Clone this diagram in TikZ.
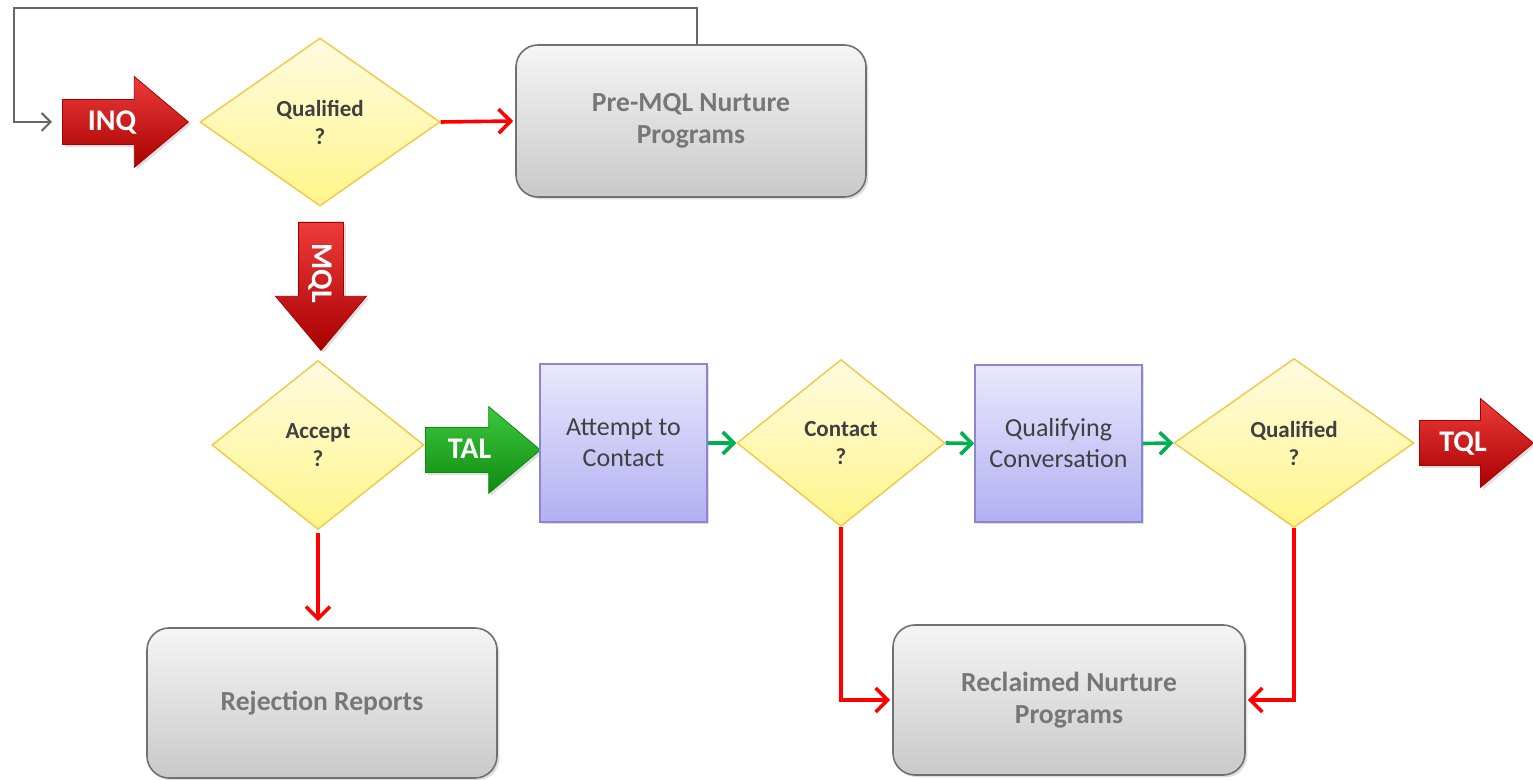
\documentclass[tikz,border=0pt]{standalone}
\usepackage{fontspec}
\setmainfont{Carlito}
\usetikzlibrary{shapes.geometric,shapes.arrows,arrows.meta,shadows}

\definecolor{redline}{HTML}{FF0000}
\definecolor{greenline}{HTML}{00B050}
\definecolor{loopgray}{HTML}{666666}
\definecolor{diatop}{HTML}{FFFBE0}
\definecolor{diabot}{HTML}{FFF58A}
\definecolor{diaborder}{HTML}{F2C744}
\definecolor{boxtop}{HTML}{F5F5F5}
\definecolor{boxbot}{HTML}{C9C9C9}
\definecolor{boxborder}{HTML}{707070}
\definecolor{tasktop}{HTML}{E9E8FC}
\definecolor{taskbot}{HTML}{B3AFF2}
\definecolor{taskborder}{HTML}{8B87CF}
\definecolor{darktext}{HTML}{404040}
\definecolor{graytext}{HTML}{777777}
\definecolor{arrowlight}{HTML}{EE3B3B}
\definecolor{arrowdark}{HTML}{A80000}
\definecolor{tallight}{HTML}{3CC83C}
\definecolor{taldark}{HTML}{108A10}

\tikzset{
  softshadow/.style={drop shadow={opacity=0.25,shadow xshift=1.2pt,shadow yshift=-1.2pt}},
  decision/.style={diamond, draw=diaborder, line width=0.7pt, top color=diatop, bottom color=diabot,
    inner sep=0pt, align=center, text=darktext, font=\bfseries\fontsize{11.5}{14}\selectfont},
  nurture/.style={rectangle, rounded corners=11pt, draw=boxborder, line width=0.8pt,
    top color=boxtop, bottom color=boxbot, align=center, text=graytext,
    font=\bfseries\fontsize{13.8}{16}\selectfont, softshadow},
  task/.style={rectangle, draw=taskborder, line width=0.8pt, top color=tasktop, bottom color=taskbot,
    align=center, text=darktext, font=\fontsize{13}{15.5}\selectfont, softshadow},
  blockarrow/.style={single arrow, anchor=tail, single arrow tip angle=80, inner xsep=1pt, inner ysep=0pt,
    text height=15.5pt, text depth=6.5pt, text=white, font=\bfseries\fontsize{15}{15}\selectfont, softshadow},
  redblock/.style={blockarrow, draw=arrowdark, line width=0.4pt, top color=arrowlight, bottom color=arrowdark},
  greenblock/.style={blockarrow, draw=taldark, line width=0.4pt, top color=tallight, bottom color=taldark},
  redflow/.style={draw=redline, line width=1.8pt, -{Straight Barb[length=6pt,width=12pt]}},
  greenflow/.style={draw=greenline, line width=1.8pt, -{Straight Barb[length=5.5pt,width=11pt]}},
  loopflow/.style={draw=loopgray, line width=1pt, -{Straight Barb[length=4.5pt,width=9pt]}},
}

\begin{document}
\begin{tikzpicture}[x=0.5pt, y=-0.5pt]
    \useasboundingbox (0,0) rectangle (1533,780);

    % top row
    \node[redblock, minimum height=63pt, single arrow head extend=11.5pt] (inq) at (62,122) {INQ};
    \node[decision, minimum width=120pt, minimum height=84pt] (qual1) at (320,122) {Qualified\\?};
    \node[nurture, minimum width=175pt, minimum height=76pt] (premql) at (691,121) {Pre-MQL Nurture\\Programs};

    % MQL hand-off
    \node[redblock, rotate=-90, minimum height=64pt, single arrow head extend=11.5pt] (mql) at (321,222) {MQL};

    % middle row
    \node[decision, minimum width=106pt, minimum height=84.5pt] (accept) at (318,445) {Accept\\?};
    \node[greenblock, minimum height=57.5pt, single arrow head extend=10.5pt] (tal) at (425,450) {TAL};
    \node[task, minimum width=83.5pt, minimum height=79pt] (attempt) at (623.5,443) {Attempt to\\Contact};
    \node[decision, minimum width=104pt, minimum height=83.5pt] (contact) at (841,443) {Contact\\?};
    \node[task, minimum width=83.5pt, minimum height=78.5pt] (qualconv) at (1058.5,443.5) {Qualifying\\Conversation};
    \node[decision, minimum width=120pt, minimum height=84.5pt] (qual2) at (1294,443) {Qualified\\?};
    \node[redblock, minimum height=57pt, single arrow head extend=11pt] (tql) at (1419,443) {TQL};

    % bottom row
    \node[nurture, minimum width=175pt, minimum height=75pt] (reject) at (322,703) {Rejection Reports};
    \node[nurture, minimum width=176pt, minimum height=75pt] (reclaim) at (1069,700) {Reclaimed Nurture\\Programs};

    % loop back to INQ
    \coordinate (loopcorner) at (14,8);
    \draw[loopflow, shorten >=5pt] ([xshift=3pt]premql.north) |- (loopcorner) |- (inq.tail);

    % flows
    \draw[redflow, shorten >=1pt] (qual1.east) -- (premql.west);
    \draw[redflow, shorten <=1.5pt, shorten >=3pt] (accept.south) -- (accept.south |- reject.north);
    \draw[greenflow] (attempt.east) -- (contact.west);
    \draw[greenflow] (contact.east) -- (qualconv.west);
    \draw[greenflow] (qualconv.east) -- (qual2.west);
    \draw[redflow, shorten >=1pt] (contact.south) |- (reclaim.west);
    \draw[redflow, shorten >=1pt] (qual2.south) |- (reclaim.east);
\end{tikzpicture}
\end{document}
